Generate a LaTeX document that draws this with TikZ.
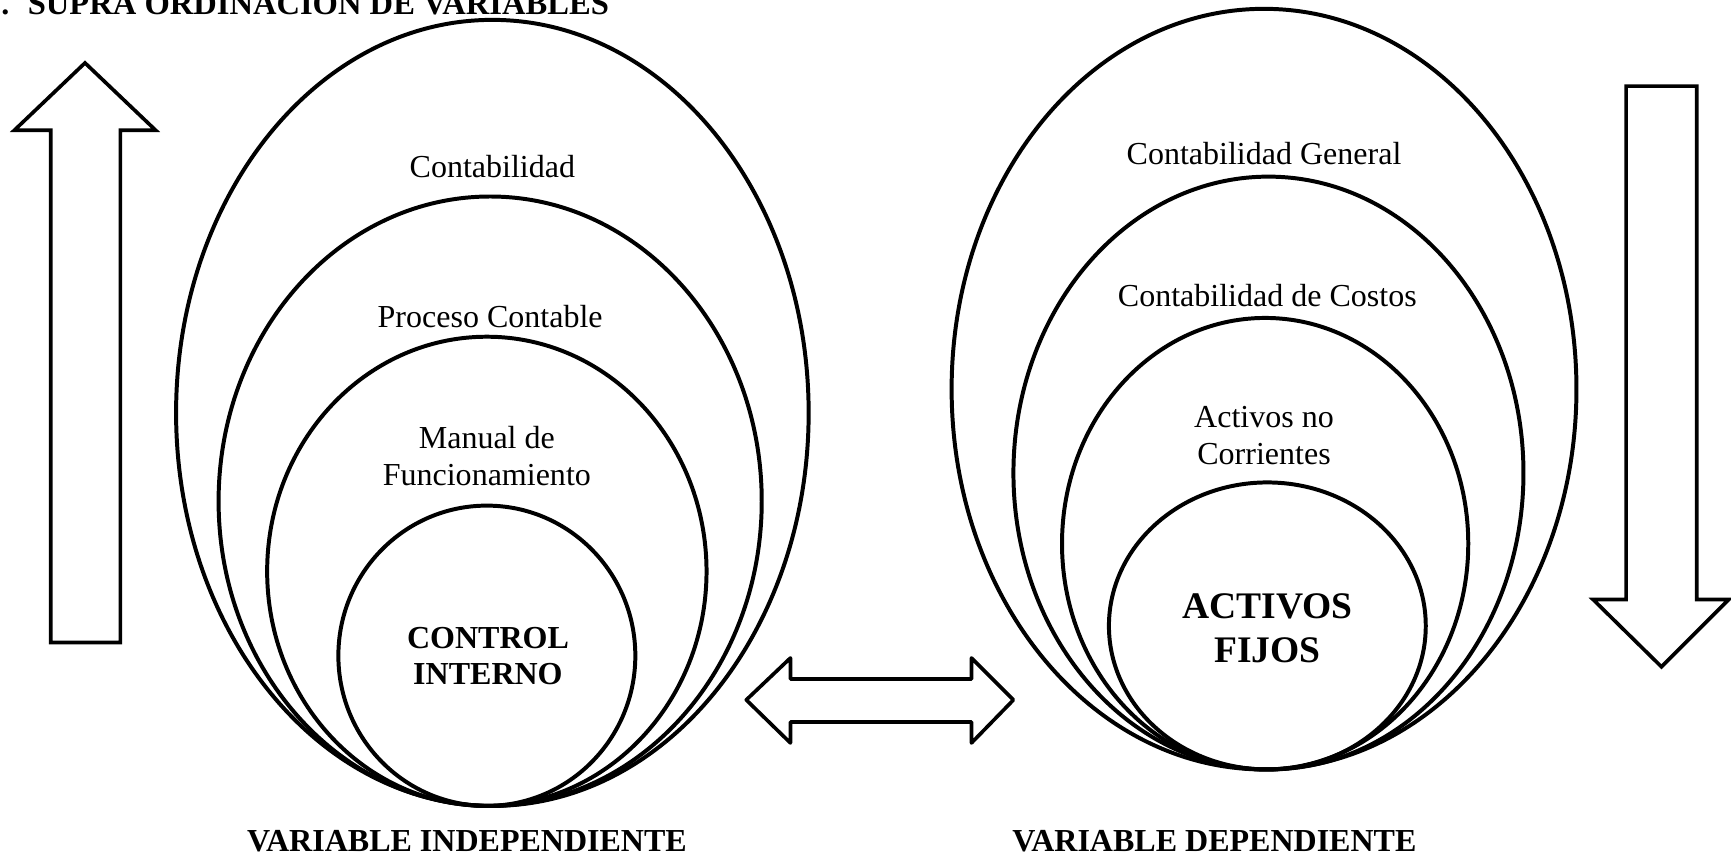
\documentclass[tikz,border=0pt]{standalone}
\usepackage{fontspec}
\setmainfont{Liberation Serif}
\usetikzlibrary{shapes.geometric}
\begin{document}
\begin{tikzpicture}[x=1pt,y=-1pt,
  ring/.style={draw=black, line width=3.6pt, ellipse, inner sep=0pt, outer sep=0pt},
  lbl/.style={font=\fontsize{29}{34}\selectfont, align=center, inner sep=0pt},
  core/.style={font=\fontsize{29}{33}\selectfont\bfseries, align=center, inner sep=0pt},
  corebig/.style={font=\fontsize{34}{40}\selectfont\bfseries, align=center, inner sep=0pt},
  caption/.style={font=\fontsize{29}{33}\selectfont\bfseries, inner sep=0pt},
  blockarrow/.style={draw=black, line width=3.3pt, fill=white}]
\useasboundingbox (0,0) rectangle (1568,778);

% heading
\node[caption, anchor=base west] (bullet) at (1,13) {.};
\node[font=\fontsize{29.5}{33}\selectfont\bfseries, inner sep=0pt, anchor=base west] (title) at (25,13) {SUPRA ORDINACION DE VARIABLES};

% independent variable: nested rings
\node[ring, minimum width=573pt, minimum height=712pt] (L1) at (446,374) {};
\node[ring, minimum width=492pt, minimum height=552pt] (L2) at (444,454) {};
\node[ring, minimum width=398pt, minimum height=425pt] (L3) at (441,517.5) {};
\node[ring, minimum width=269pt, minimum height=272pt] (L4) at (441,594) {};

\node[lbl] (tL1) at (446,151) {Contabilidad};
\node[lbl] (tL2) at (444,287) {Proceso Contable};
\node[lbl] (tL3) at (441,413) {Manual de\\Funcionamiento};
\node[core] (tL4) at (442,594.5) {CONTROL\\INTERNO};

% dependent variable: nested rings
\node[ring, minimum width=566pt, minimum height=689pt] (R1) at (1145,352.5) {};
\node[ring, minimum width=462pt, minimum height=537pt] (R2) at (1149,428.5) {};
\node[ring, minimum width=368pt, minimum height=409pt] (R3) at (1146,492.5) {};
\node[ring, minimum width=287pt, minimum height=260pt] (R4) at (1148,567) {};

\node[lbl] (tR1) at (1145,139) {Contabilidad General};
\node[lbl] (tR2) at (1148,268) {Contabilidad de Costos};
\node[lbl] (tR3) at (1145,394.5) {Activos no\\Corrientes};
\node[corebig] (tR4) at (1148,569) {ACTIVOS\\FIJOS};

% captions under each group
\node[caption] (capL) at (423,762) {VARIABLE INDEPENDIENTE};
\node[caption] (capR) at (1100,762) {VARIABLE DEPENDIENTE};

% upward block arrow
\draw[blockarrow, line join=miter]
  (46,582) -- (46,118) -- (13,118) -- (77,57) -- (141,118) -- (109,118) -- (109,582) -- cycle;

% downward block arrow
\draw[blockarrow, line join=miter]
  (1473,78) -- (1537,78) -- (1537,543) -- (1566,543) -- (1505,604) -- (1443,543) -- (1473,543) -- cycle;

% two-headed block arrow between the groups
\draw[blockarrow, line join=round]
  (676,634) -- (716,596) -- (716,615) -- (880,615) -- (880,596) -- (918,634)
  -- (880,673) -- (880,654) -- (716,654) -- (716,673) -- cycle;
\end{tikzpicture}
\end{document}
